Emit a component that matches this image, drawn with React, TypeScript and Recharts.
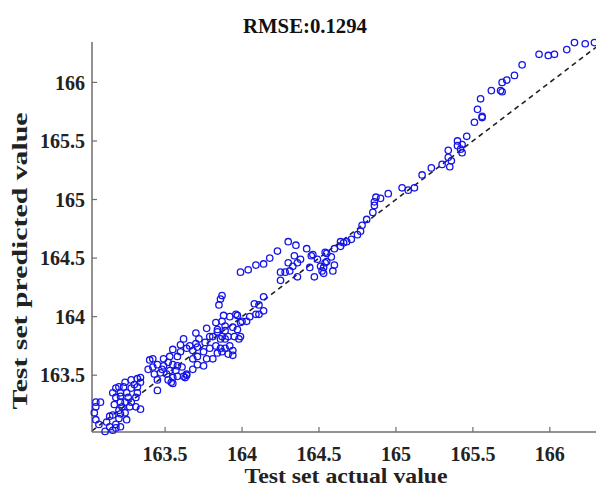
import React from 'react'
import { ScatterChart, Scatter, XAxis, YAxis, ReferenceLine } from 'recharts'

// test set: actual vs predicted (paired by index)
const actualValues = [
  166.16, 166.23, 166.29, 166.11, 166.03, 165.99, 165.93, 165.82, 165.77, 165.72,
  165.69, 165.69, 165.68, 165.62, 165.55, 165.53, 165.56, 165.56, 165.51, 165.46,
  165.40, 165.43, 165.40, 165.42, 165.43, 165.34, 165.34, 165.36, 165.30, 165.35,
  165.23, 165.17, 165.12, 165.08, 165.04, 164.95, 164.90, 164.87, 164.86, 164.86,
  164.85, 164.81, 164.78, 164.77, 164.75, 164.71, 164.68, 164.66, 164.64, 164.64,
  164.60, 164.54, 164.58, 164.55, 164.60, 164.51, 164.53, 164.53, 164.59, 164.47,
  164.42, 164.45, 164.38, 164.44, 164.30, 164.35, 164.23, 164.18, 164.14, 164.09,
  164.04, 163.99, 164.46, 164.49, 164.55, 164.34, 164.36, 164.30, 164.33, 164.25,
  164.28, 164.31, 164.36, 164.25, 164.54, 164.52,
  163.87, 163.86, 163.85, 164.14, 164.08, 164.11, 164.14, 164.11, 164.05, 164.00,
  163.97, 163.92, 163.88, 163.83, 163.87, 163.89, 163.94, 163.97, 163.77, 163.84,
  163.79, 163.87, 163.91, 163.95, 163.99, 164.03, 164.09, 163.99, 163.96, 163.70,
  163.84, 163.89, 163.89, 163.86, 163.81, 163.98, 163.72, 163.76, 163.70, 163.66,
  163.62, 163.60, 163.64, 163.68, 163.71, 163.75, 163.79, 163.83, 163.86, 163.89,
  163.92, 163.94, 163.94, 163.91, 163.87, 163.84, 163.81, 163.77, 163.71, 163.68,
  163.71, 163.75, 163.68, 163.64, 163.63, 163.55, 163.53, 163.58, 163.49, 163.52,
  163.55, 163.49, 163.45, 163.48, 163.53, 163.57, 163.61, 163.51, 163.55, 163.58,
  163.62, 163.55, 163.52, 163.42, 163.42, 163.43, 163.45, 163.45, 163.40, 163.39,
  163.47, 163.54, 163.58, 163.60, 163.64,
  163.34, 163.34, 163.32, 163.28, 163.24, 163.30, 163.32, 163.28, 163.23, 163.20,
  163.18, 163.16, 163.21, 163.25, 163.32, 163.31, 163.26, 163.21, 163.18, 163.21,
  163.24, 163.28, 163.31, 163.34, 163.27, 163.22, 163.17, 163.20, 163.24, 163.21,
  163.25, 163.20, 163.18, 163.21, 163.14, 163.16, 163.11, 163.08, 163.05, 163.05,
  163.04, 163.05, 163.07, 163.14, 163.12, 163.16, 163.18,
]

const predictedValues = [
  166.34, 166.33, 166.34, 166.28, 166.24, 166.23, 166.24, 166.15, 166.06, 166.02,
  166.00, 165.92, 165.93, 165.93, 165.86, 165.77, 165.71, 165.70, 165.66, 165.54,
  165.50, 165.47, 165.46, 165.43, 165.40, 165.42, 165.36, 165.33, 165.30, 165.28,
  165.27, 165.21, 165.10, 165.08, 165.10, 165.05, 165.01, 165.02, 164.98, 164.95,
  164.89, 164.83, 164.78, 164.73, 164.70, 164.66, 164.64, 164.63, 164.60, 164.64,
  164.58, 164.55, 164.51, 164.47, 164.44, 164.43, 164.42, 164.37, 164.39, 164.34,
  164.58, 164.52, 164.49, 164.42, 164.64, 164.61, 164.56, 164.50, 164.45, 164.44,
  164.40, 164.38, 164.53, 164.49, 164.54, 164.52, 164.46, 164.46, 164.43, 164.38,
  164.38, 164.39, 164.34, 164.31, 164.46, 164.39,
  164.18, 164.15, 164.10, 164.17, 164.11, 164.10, 164.05, 164.02, 164.00, 163.96,
  164.01, 164.00, 164.01, 163.95, 163.96, 163.92, 163.91, 163.89, 163.90, 163.89,
  163.83, 163.83, 163.83, 163.83, 163.83, 163.96, 164.02, 163.95, 164.02, 163.86,
  163.87, 163.88, 163.81, 163.81, 163.83, 163.81, 163.81, 163.78, 163.77, 163.75,
  163.81, 163.76, 163.73, 163.71, 163.74, 163.70, 163.73, 163.75, 163.73, 163.73,
  163.75, 163.71, 163.67, 163.68, 163.70, 163.69, 163.64, 163.64, 163.66, 163.64,
  163.59, 163.58, 163.55, 163.51, 163.48, 163.72, 163.66, 163.66, 163.64, 163.61,
  163.59, 163.58, 163.59, 163.55, 163.54, 163.54, 163.57, 163.51, 163.48, 163.49,
  163.49, 163.43, 163.46, 163.64, 163.57, 163.51, 163.46, 163.37, 163.63, 163.55,
  163.52, 163.44, 163.58, 163.70, 163.50,
  163.48, 163.44, 163.47, 163.46, 163.44, 163.42, 163.40, 163.39, 163.40, 163.40,
  163.39, 163.35, 163.35, 163.35, 163.35, 163.31, 163.31, 163.32, 163.31, 163.27,
  163.27, 163.27, 163.23, 163.21, 163.23, 163.23, 163.25, 163.20, 163.18, 163.17,
  163.12, 163.13, 163.08, 163.06, 163.06, 163.03, 163.02, 163.27, 163.27, 163.23,
  163.18, 163.12, 163.08, 163.15, 163.10, 163.16, 163.05,
]

const xTicks = [163.5, 164, 164.5, 165, 165.5, 166]
const yTicks = [163.5, 164, 164.5, 165, 165.5, 166]
const xDomain = [163.025, 166.3]
const yDomain = [163.015, 166.345]
const lineStart = 163.025
const lineEnd = 166.3

const data = actualValues.map((a, i) => ({ actual: a, predicted: predictedValues[i] }))

const FONT = '"Liberation Serif", "Times New Roman", serif'
const AXIS_COLOR = '#6e6e6e'

const Marker = (props: any) => (
  <circle cx={props.cx} cy={props.cy} r={3.2} fill="none" stroke="#1515e8" strokeWidth={1.3} />
)

export default function App() {
  return (
    <div style={{ position: 'absolute', left: 0, top: 0, width: 596, height: 489, background: '#fff' }}>
      <ScatterChart width={596} height={489} margin={{ top: 42, right: 0, bottom: 0, left: 0 }}>
        <XAxis
          type="number"
          dataKey="actual"
          domain={xDomain}
          ticks={xTicks}
          height={57}
          tickSize={-5}
          tickMargin={20}
          axisLine={{ stroke: AXIS_COLOR, strokeWidth: 1.5 }}
          tickLine={{ stroke: AXIS_COLOR, strokeWidth: 1.2 }}
          tick={{ fontSize: 20, fontWeight: 'bold', fill: '#222', fontFamily: FONT }}
        />
        <YAxis
          type="number"
          dataKey="predicted"
          domain={yDomain}
          ticks={yTicks}
          width={92}
          tickSize={-5}
          tickMargin={12}
          axisLine={{ stroke: AXIS_COLOR, strokeWidth: 1.5 }}
          tickLine={{ stroke: AXIS_COLOR, strokeWidth: 1.2 }}
          tick={{ fontSize: 20, fontWeight: 'bold', fill: '#222', fontFamily: FONT }}
        />
        <Scatter data={data} shape={Marker} isAnimationActive={false} />
        <ReferenceLine
          segment={[{ x: lineStart, y: lineStart }, { x: lineEnd, y: lineEnd }]}
          stroke="#222"
          strokeWidth={1.6}
          strokeDasharray="5 4"
        />
      </ScatterChart>
      <svg width={596} height={489} style={{ position: 'absolute', left: 0, top: 0, pointerEvents: 'none' }}>
        <g fontFamily={FONT} fontWeight="bold" fill="#111">
          <text x={305} y={33} fontSize={22} textAnchor="middle" textLength={124} lengthAdjust="spacingAndGlyphs">
            RMSE:0.1294
          </text>
          <text x={346} y={483} fontSize={22} textAnchor="middle" fill="#222" textLength={203} lengthAdjust="spacingAndGlyphs">
            Test set actual value
          </text>
          <text
            x={27}
            y={261}
            fontSize={22}
            textAnchor="middle"
            fill="#222"
            transform="rotate(-90, 27, 261)"
            textLength={297}
            lengthAdjust="spacingAndGlyphs"
          >
            Test set predicted value
          </text>
        </g>
      </svg>
    </div>
  )
}
